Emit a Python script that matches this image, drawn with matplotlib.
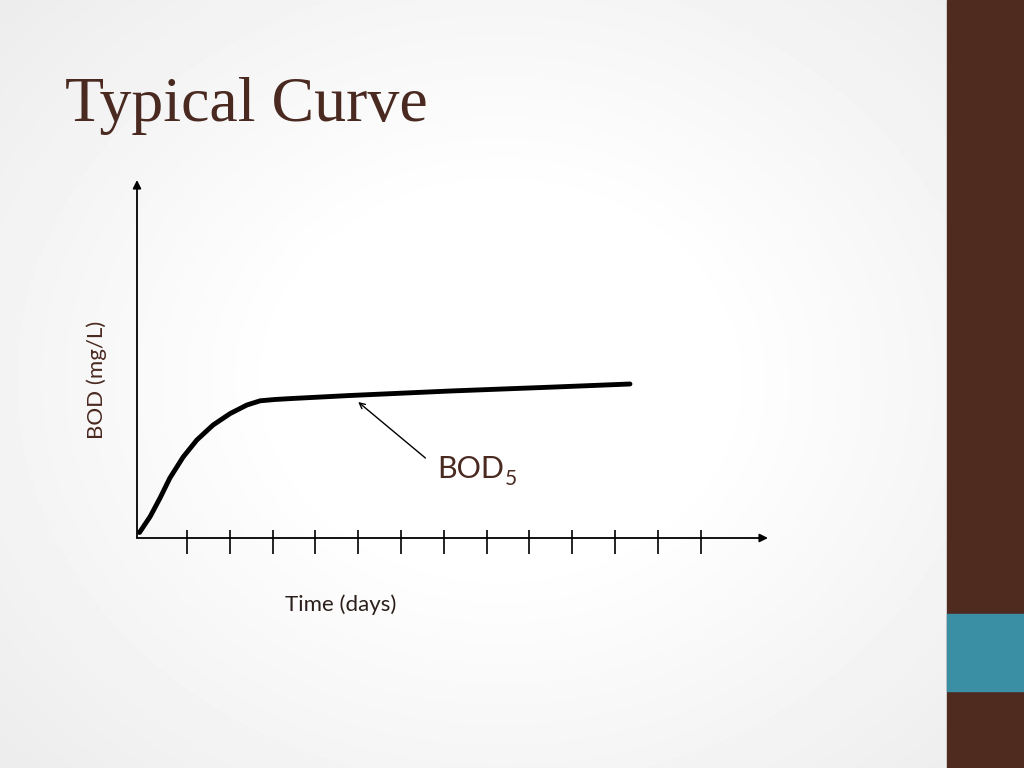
import numpy as np
import matplotlib.pyplot as plt

# BOD curve (days, mg/L in arbitrary units)
days = [-0.11, 0.14, 0.37, 0.60, 0.91, 1.23, 1.61, 2.01, 2.40, 2.71, 3.05, 3.41,
        4.81, 7.15, 9.48, 11.35]
bod = [0.55, 2.15, 4.0, 6.0, 8.1, 9.8, 11.3, 12.45, 13.3, 13.72, 13.85, 13.94,
       14.25, 14.7, 15.08, 15.4]
tick_days = list(range(1, 14))

brown = '#4f2a1f'
teal = '#3a8fa5'
text_brown = '#4a2a20'

fig = plt.figure(figsize=(10.24, 7.68), dpi=100)

# slide background with soft radial shading
bg = fig.add_axes([0, 0, 1, 1])
yy, xx = np.mgrid[0:768, 0:1024]
r = np.sqrt(((xx - 500) / 620.0) ** 2 + ((yy - 380) / 520.0) ** 2)
shade = 1.0 - 0.10 * np.clip(r - 0.35, 0, None)
bg.imshow(shade, cmap='gray', vmin=0, vmax=1, extent=[0, 1024, 768, 0], aspect='auto')
bg.add_patch(plt.Rectangle((947, 0), 77, 768, color=brown))
bg.add_patch(plt.Rectangle((947, 614), 77, 77, color=teal))
bg.set_xlim(0, 1024)
bg.set_ylim(768, 0)
bg.axis('off')

fig.text(65 / 1024, 1 - 121 / 768, 'Typical Curve', family='Liberation Serif',
         fontsize=46, color=text_brown, ha='left', va='baseline')

# plot area
ax = fig.add_axes([137 / 1024, (768 - 538) / 768, (768 - 137) / 1024, (538 - 180) / 768])
ax.patch.set_alpha(0)
x0 = (137 - 187) / 42.8 + 1
x1 = (768 - 187) / 42.8 + 1
ax.set_xlim(x0, x1)
ax.set_ylim(0, 35.8)
for s in ax.spines.values():
    s.set_visible(False)
ax.set_xticks([])
ax.set_yticks([])

arrow = dict(arrowstyle='-|>', color='black', lw=1.3, mutation_scale=12, shrinkA=0, shrinkB=0)
ax.annotate('', xy=(x1, 0), xytext=(x0, 0), arrowprops=arrow, annotation_clip=False)
ax.annotate('', xy=(x0, 35.8), xytext=(x0, 0), arrowprops=arrow, annotation_clip=False)
ax.vlines(tick_days, -1.6, 0.8, color='black', lw=1.2, clip_on=False)

ax.plot(days, bod, color='black', lw=3.5, solid_capstyle='round', solid_joinstyle='round')

# BOD5 pointer
ax.annotate('', xy=(5.0, 13.6), xytext=(6.57, 8.0),
            arrowprops=dict(arrowstyle='->', color='black', lw=1.0, shrinkA=0, shrinkB=0))
fig.text(437 / 1024, 1 - 478 / 768, 'BOD', family='Lato', fontsize=22,
         color=text_brown, ha='left', va='baseline')
fig.text(505 / 1024, 1 - 485 / 768, '5', family='Lato', fontsize=15,
         color=text_brown, ha='left', va='baseline')

fig.text(97 / 1024, 1 - 380 / 768, 'BOD (mg/L)', rotation=90, family='Lato',
         fontsize=16, color=text_brown, ha='center', va='center')
fig.text(341 / 1024, 1 - 605 / 768, 'Time (days)', family='Lato',
         fontsize=16, color='#2a1f1a', ha='center', va='center')

fig.savefig('out.png', dpi=100)
